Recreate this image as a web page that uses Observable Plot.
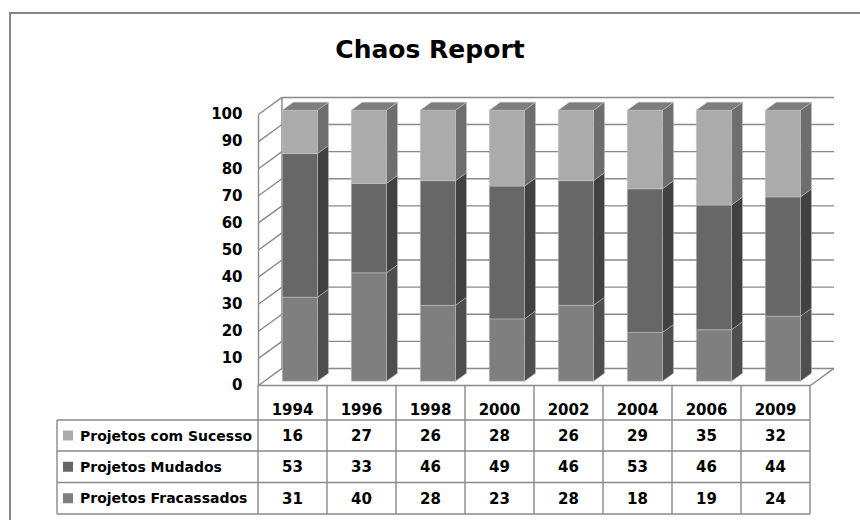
<!DOCTYPE html>
<html><head><meta charset="utf-8">
<script src="https://cdn.jsdelivr.net/npm/d3@7"></script>
<script src="https://cdn.jsdelivr.net/npm/@observablehq/plot@0.6"></script>
<style>
html,body{margin:0;padding:0;background:#fff;overflow:hidden;}
#page{position:relative;width:860px;height:520px;overflow:hidden;font-family:"DejaVu Sans",sans-serif;}
#frame{position:absolute;left:9px;top:12px;width:1000px;height:1000px;border:2px solid #868686;box-sizing:border-box;}
#title{position:absolute;left:0;width:860px;top:37px;text-align:center;font-size:25px;line-height:25px;font-weight:bold;color:#000;}
#chart{position:absolute;left:0;top:0;}
#table{position:absolute;left:0;top:0;}
</style></head>
<body><div id="page"><div id="frame"></div><div id="chart"></div><div id="title">Chaos Report</div><div id="table"></div></div>
<script>
// ---- data ----
const years = ["1994","1996","1998","2000","2002","2004","2006","2009"];
const seriesNames = ["Projetos com Sucesso","Projetos Mudados","Projetos Fracassados"];
const sucesso     = [16,27,26,28,26,29,35,32];
const mudados     = [53,33,46,49,46,53,46,44];
const fracassados = [31,40,28,23,28,18,19,24];
const yTicks = [0,10,20,30,40,50,60,70,80,90,100];

// ---- styles ----
const frontColors = ["#ababab","#676767","#7f7f7f"];
const sideColors  = ["#6e6e6e","#414141","#4f4f4f"];
const topColor = "#7d7d7d";
const legendColors = ["#ababab","#676767","#7f7f7f"];
const gridColor = "#898989";
const font = "DejaVu Sans";

// pseudo-3D geometry (depth offsets in data units)
const DX = 0.34, DY = 6.3, D1 = 0.25, D2 = 0.72, BX0 = 0.26, BX1 = 0.77;
const P = (x, y, d) => ({x: x + d * DX, y: y + d * DY});

const values = [sucesso, mudados, fracassados];
const stackOrder = [2, 1, 0]; // bottom to top
const n = years.length;
const yMax = d3.max(yTicks);

const polys = [];
years.forEach((yr, i) => {
  let base = 0;
  const segs = [];
  for (const s of stackOrder) { const v = values[s][i]; segs.push({s, y0: base, y1: base + v}); base += v; }
  const xl = i + BX0, xr = i + BX1;
  segs.forEach((g, j) => {
    polys.push({id: `side-${i}-${j}`, color: sideColors[g.s], pts: [P(xr, g.y0, D1), P(xr, g.y0, D2), P(xr, g.y1, D2), P(xr, g.y1, D1)]});
    polys.push({id: `front-${i}-${j}`, color: frontColors[g.s], pts: [P(xl, g.y0, D1), P(xr, g.y0, D1), P(xr, g.y1, D1), P(xl, g.y1, D1)]});
  });
  polys.push({id: `top-${i}`, color: topColor, pts: [P(xl, base, D1), P(xr, base, D1), P(xr, base, D2), P(xl, base, D2)]});
});
const polyRows = polys.flatMap(p => [...p.pts, p.pts[0]].map(pt => ({id: p.id, color: p.color, x: pt.x, y: pt.y})));

const gridLinks = [
  ...yTicks.map(v => ({x1: DX, y1: v + DY, x2: n + DX, y2: v + DY})),
  ...yTicks.map(v => ({x1: 0, y1: v, x2: DX, y2: v + DY})),
  {x1: 0, y1: 0, x2: 0, y2: yMax},
  {x1: DX, y1: DY, x2: DX, y2: yMax + DY},
  {x1: 0, y1: 0, x2: n, y2: 0},
  {x1: n, y1: 0, x2: n + DX, y2: DY}
];

const chart = Plot.plot({
  width: 860, height: 400,
  marginLeft: 258, marginRight: 50, marginTop: 114, marginBottom: 15,
  style: {fontFamily: font, background: "transparent"},
  x: {domain: [0, n], axis: null},
  y: {domain: [0, yMax], axis: null},
  color: {type: "identity"},
  marks: [
    Plot.link(gridLinks, {x1: "x1", y1: "y1", x2: "x2", y2: "y2", stroke: gridColor, strokeWidth: 1.4}),
    Plot.line(polyRows, {x: "x", y: "y", z: "id", fill: "color", stroke: "#c4c4c4", strokeWidth: 0.6, strokeOpacity: 0.8, curve: "linear"}),
    Plot.text(yTicks, {x: 0, y: d => d, text: d => String(d), textAnchor: "end", dx: -16, fontSize: 15, fontWeight: "bold", fill: "#000", fontFamily: font})
  ]
});
document.getElementById("chart").appendChild(chart);

// ---- data table aligned with the x scale ----
const xs = chart.scale("x");
const colX = d3.range(n + 1).map(k => xs.apply(k));
const headerTop = 385, headerText = 410;
const rowLines = [420, 451, 482.5, 514];
const legendLeft = 57;
const svg = d3.select("#table").append("svg").attr("width", 860).attr("height", 520)
  .style("font-family", font).style("font-weight", "bold");
const g = svg.append("g").attr("stroke", gridColor).attr("stroke-width", 1.4);
colX.forEach(x => g.append("line").attr("x1", x).attr("x2", x).attr("y1", headerTop).attr("y2", rowLines[3]));
g.append("line").attr("x1", legendLeft).attr("x2", legendLeft).attr("y1", rowLines[0]).attr("y2", rowLines[3]);
rowLines.forEach(y => g.append("line").attr("x1", legendLeft).attr("x2", colX[n]).attr("y1", y).attr("y2", y));
years.forEach((yr, i) => svg.append("text").attr("x", (colX[i] + colX[i + 1]) / 2).attr("y", headerText)
  .attr("dy", "0.36em").attr("text-anchor", "middle").attr("font-size", 15).text(yr));
seriesNames.forEach((name, r) => {
  const cy = (rowLines[r] + rowLines[r + 1]) / 2;
  svg.append("rect").attr("x", 63).attr("y", cy - 5).attr("width", 10).attr("height", 10).attr("fill", legendColors[r]);
  svg.append("text").attr("x", 80).attr("y", cy).attr("dy", "0.36em").attr("font-size", 14).text(name);
  values[r].forEach((v, i) => svg.append("text").attr("x", (colX[i] + colX[i + 1]) / 2).attr("y", cy)
    .attr("dy", "0.36em").attr("text-anchor", "middle").attr("font-size", 15).text(v));
});
</script>
</body></html>
